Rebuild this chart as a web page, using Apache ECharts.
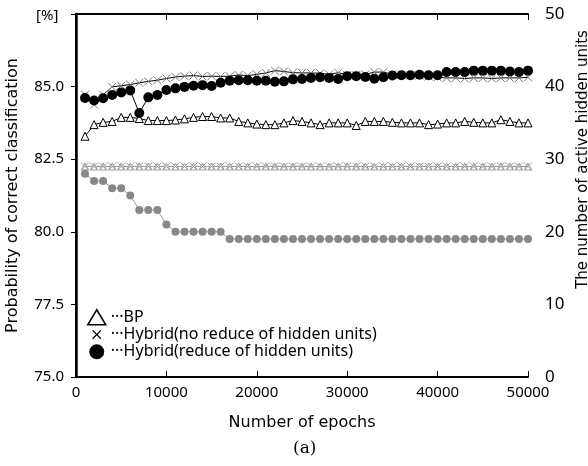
<!DOCTYPE html>
<html><head><meta charset="utf-8">
<script src="https://cdn.jsdelivr.net/npm/echarts@6/dist/echarts.min.js"></script>
<style>html,body{margin:0;padding:0;background:#fff}#c{width:588px;height:466px}</style>
</head><body><div id="c"></div>
<script>
const epochs = [1000,2000,3000,4000,5000,6000,7000,8000,9000,10000,11000,12000,13000,14000,15000,16000,17000,18000,19000,20000,21000,22000,23000,24000,25000,26000,27000,28000,29000,30000,31000,32000,33000,34000,35000,36000,37000,38000,39000,40000,41000,42000,43000,44000,45000,46000,47000,48000,49000,50000];
const bpAcc = [83.29,83.69,83.77,83.80,83.94,83.94,83.90,83.83,83.83,83.83,83.85,83.89,83.94,
  83.97,83.97,83.92,83.92,83.80,83.75,83.71,83.69,83.69,83.75,83.83,83.80,
  83.75,83.69,83.75,83.75,83.75,83.66,83.80,83.80,83.80,83.77,83.75,83.75,83.75,
  83.69,83.71,83.75,83.75,83.80,83.77,83.75,83.75,83.86,83.80,83.75,83.75];
const hybNoAcc = [84.72,84.38,84.72,84.99,85.03,85.07,85.13,85.18,85.22,85.28,85.33,85.36,85.38,
  85.35,85.36,85.35,85.36,85.40,85.38,85.42,85.47,85.55,85.52,85.48,85.47,
  85.47,85.46,85.42,85.48,85.40,85.40,85.42,85.50,85.50,85.42,85.40,85.38,85.38,
  85.35,85.32,85.30,85.30,85.28,85.30,85.30,85.28,85.30,85.30,85.30,85.32];
const hybRedAcc = [84.61,84.52,84.60,84.71,84.80,84.87,84.09,84.63,84.71,84.88,84.94,84.99,85.03,
  85.05,85.02,85.13,85.20,85.22,85.22,85.20,85.20,85.17,85.18,85.25,85.26,
  85.30,85.32,85.30,85.26,85.36,85.36,85.33,85.27,85.32,85.38,85.39,85.39,85.41,
  85.39,85.39,85.50,85.50,85.50,85.55,85.55,85.55,85.55,85.52,85.50,85.55];
const bpUnits = [29,29,29,29,29,29,29,29,29,29,29,29,29,29,29,29,29,29,29,29,29,29,29,29,29,29,29,29,29,29,29,29,29,29,29,29,29,29,29,29,29,29,29,29,29,29,29,29,29,29];
const hybNoUnits = [29,29,29,29,29,29,29,29,29,29,29,29,29,29,29,29,29,29,29,29,29,29,29,29,29,29,29,29,29,29,29,29,29,29,29,29,29,29,29,29,29,29,29,29,29,29,29,29,29,29];
const hybRedUnits = [28,27,27,26,26,25,23,23,23,21,20,20,20,20,20,20,19,19,19,19,19,19,19,19,19,19,19,19,19,19,19,19,19,19,19,19,19,19,19,19,19,19,19,19,19,19,19,19,19,19];
const seriesNames = ['BP','Hybrid(no reduce of hidden units)','Hybrid(reduce of hidden units)'];

const pair = (ys) => epochs.map((x,i)=>[x, ys[i]]);
const XPATH = 'path://M0,0L10,10M10,0L0,10';
const XLEG = 'path://M0,0M18,18M4,4L14,14M14,4L4,14';
const FONT = 'Noto Sans';
const NAMEFONT = 'DejaVu Sans';

const chart = echarts.init(document.getElementById('c'), null, {renderer:'canvas'});
chart.setOption({
  animation:false,
  textStyle:{fontFamily:FONT},
  grid:{left:76,right:60,top:14,bottom:89,containLabel:false,outerBoundsMode:'none'},
  title:{text:'(a)',left:288,bottom:4,textStyle:{fontFamily:'DejaVu Serif',fontSize:17,fontWeight:'normal',color:'#000'}},
  graphic:[{type:'text',left:36,top:8,style:{text:'[%]',font:'15px "Noto Sans"',fill:'#000'}}],
  legend:{
    orient:'vertical',left:82,top:304,itemGap:1,itemWidth:18,itemHeight:15,
    textStyle:{fontSize:16,color:'#000',fontFamily:FONT},
    formatter:(n)=>'···' + n,
    data:[
      {name:seriesNames[0],icon:'triangle',itemStyle:{color:'#fff',borderColor:'#000',borderWidth:1.5}},
      {name:seriesNames[1],icon:XLEG,itemStyle:{color:'#000',borderColor:'#000',borderWidth:1.2}},
      {name:seriesNames[2],icon:'circle',itemStyle:{color:'#000',borderColor:'#000'}}
    ]
  },
  xAxis:[{
    type:'value',min:0,max:50000,interval:10000,
    name:'Number of epochs',nameLocation:'middle',nameGap:38,
    nameTextStyle:{fontSize:16,color:'#000',fontFamily:NAMEFONT},
    axisLine:{lineStyle:{color:'#000',width:2}},
    axisTick:{inside:true,length:6,lineStyle:{color:'#000'}},
    axisLabel:{fontSize:15,color:'#000',margin:8,formatter:(v)=>String(v)},
    splitLine:{show:false}
  },{
    type:'value',position:'top',min:0,max:50000,interval:10000,
    axisLine:{lineStyle:{color:'#000',width:2}},
    axisTick:{inside:true,length:6,lineStyle:{color:'#000'}},
    axisLabel:{show:false},splitLine:{show:false}
  }],
  yAxis:[{
    type:'value',min:75,max:87.5,interval:2.5,
    name:'Probability of correct classification',nameLocation:'middle',nameGap:55,
    nameTextStyle:{fontSize:16,color:'#000',fontFamily:NAMEFONT},
    axisLine:{show:true,lineStyle:{color:'#000',width:2.5}},
    axisTick:{inside:false,length:5,lineStyle:{color:'#000'}},
    axisLabel:{fontSize:15,color:'#000',margin:12,formatter:(v)=> v>87 ? '' : v.toFixed(1)},
    splitLine:{show:false}
  },{
    type:'value',min:0,max:50,interval:10,position:'right',
    name:'The number of active hidden units',nameLocation:'middle',nameGap:31,nameRotate:-270,
    nameTextStyle:{fontSize:15,color:'#000',fontFamily:NAMEFONT,padding:[0,0,0,72]},
    axisLine:{show:true,lineStyle:{color:'#000',width:2}},
    axisTick:{show:false},
    axisLabel:{fontSize:17,color:'#000',margin:17},
    splitLine:{show:false}
  }],
  series:[
    {name:'units-bp',type:'line',yAxisIndex:1,data:pair(bpUnits),symbol:'triangle',symbolSize:7,
      lineStyle:{color:'#999',width:1},itemStyle:{color:'#fff',borderColor:'#999',borderWidth:1}},
    {name:'units-no',type:'line',yAxisIndex:1,data:pair(hybNoUnits),symbol:XPATH,symbolSize:8,
      lineStyle:{color:'#999',width:1},itemStyle:{color:'#999',borderColor:'#999',borderWidth:1}},
    {name:'units-red',type:'line',yAxisIndex:1,data:pair(hybRedUnits),symbol:'circle',symbolSize:8,
      lineStyle:{color:'#999',width:1},itemStyle:{color:'#888',borderColor:'#888',borderWidth:0}},
    {name:seriesNames[0],type:'line',data:pair(bpAcc),symbol:'triangle',symbolSize:8,
      lineStyle:{color:'#000',width:1},itemStyle:{color:'#fff',borderColor:'#000',borderWidth:1}},
    {name:seriesNames[1],type:'line',data:pair(hybNoAcc),symbol:XPATH,symbolSize:8,
      lineStyle:{color:'#000',width:1},itemStyle:{color:'#777',borderColor:'#777',borderWidth:1}},
    {name:seriesNames[2],type:'line',data:pair(hybRedAcc),symbol:'circle',symbolSize:10,
      lineStyle:{color:'#000',width:1},itemStyle:{color:'#000',borderColor:'#000',borderWidth:0}}
  ]
});
</script></body></html>
